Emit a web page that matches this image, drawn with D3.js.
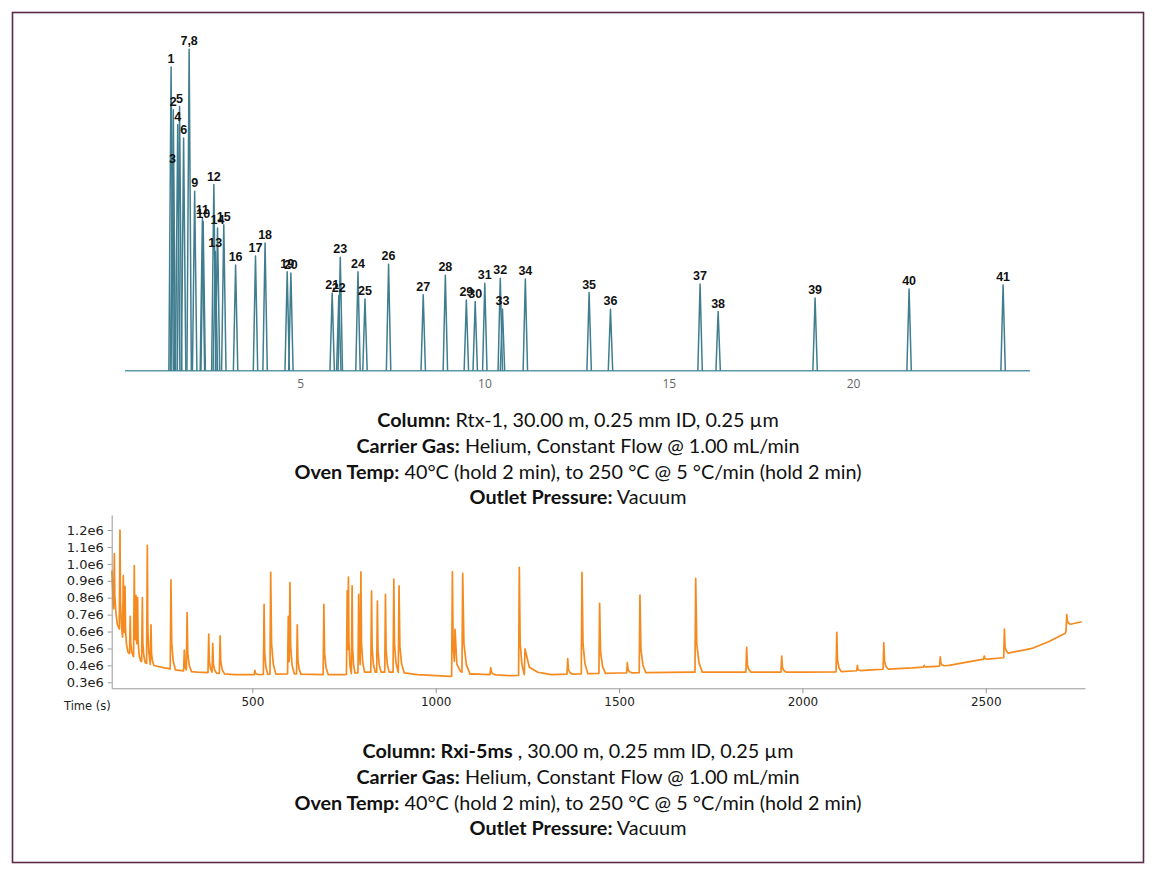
<!DOCTYPE html>
<html>
<head>
<meta charset="utf-8">
<script src="https://cdn.jsdelivr.net/npm/d3@7"></script>
<style>
  body { margin: 0; background: #fff; }
  svg { display: block; }
</style>
</head>
<body>
<svg width="1160" height="874"></svg>
<script>
// Rtx-1 run: peak label, retention time (min), relative height
var peakLabels = ['1','2','3','4','5','6','7,8','9','10','11','12','13','14','15','16','17','18','19','20',
    '21','22','23','24','25','26','27','28','29','30','31','32','33','34','35','36','37','38','39','40','41'];
var peakTimes = [1.50, 1.56, 1.54, 1.68, 1.73, 1.84, 1.99, 2.14, 2.37, 2.35, 2.66, 2.70, 2.76, 2.93, 3.25,
    3.79, 4.05, 4.65, 4.75, 5.87, 6.05, 6.09, 6.57, 6.76, 7.40, 8.34, 8.94, 9.51, 9.75, 10.01, 10.43,
    10.49, 11.11, 12.84, 13.42, 15.85, 16.34, 18.97, 21.52, 24.07];
var peakHeights = [94.5, 81.2, 63.5, 76.5, 82.2, 72.4, 100, 55.8, 46.4, 47.5, 57.9, 37.1, 44.4, 45.4, 32.9,
    35.7, 39.7, 30.8, 30.4, 24.2, 23.3, 35.3, 30.8, 22.3, 33.1, 23.6, 29.7, 22.0, 21.5, 27.2, 28.8,
    19.1, 28.5, 24.3, 19.1, 27.0, 18.4, 22.6, 25.4, 26.7];
var topTicks = [5, 10, 15, 20];

// Rxi-5ms run: baseline knots (s, counts) and peaks (s, apex counts, tail s)
var baseTimes = [117, 121, 126, 132, 140, 150, 160, 170, 185, 200, 230, 260, 300, 350, 400, 450, 500, 600,
    700, 750, 800, 900, 950, 1040, 1100, 1200, 1300, 1400, 1500, 1700, 2000, 2100, 2200, 2300, 2400,
    2490, 2549, 2556, 2626, 2671, 2717, 2724, 2762];
var baseValues = [0.96e6, 0.74e6, 0.70e6, 0.64e6, 0.60e6, 0.52e6, 0.48e6, 0.46e6, 0.44e6, 0.42e6, 0.40e6,
    0.385e6, 0.37e6, 0.36e6, 0.355e6, 0.345e6, 0.345e6, 0.35e6, 0.345e6, 0.345e6, 0.36e6, 0.36e6, 0.345e6,
    0.335e6, 0.35e6, 0.34e6, 0.345e6, 0.35e6, 0.355e6, 0.36e6, 0.36e6, 0.362e6, 0.375e6, 0.385e6, 0.40e6,
    0.435e6, 0.445e6, 0.47e6, 0.50e6, 0.54e6, 0.59e6, 0.64e6, 0.658e6];
var ms5Times = [123.6, 139, 148, 152.7, 167, 178, 182.7, 187, 200, 213.6, 223.6, 278, 314.5, 322, 381, 392,
    412, 507, 532, 550, 598, 602.5, 622.5, 695, 758.6, 762, 772, 790, 796, 825, 841, 863, 885.7, 900,
    1045.5, 1052.7, 1073.6, 1150, 1228, 1243.6, 1360, 1399, 1447, 1522.7, 1557, 1709, 1848, 1943.6,
    2093.8, 2150, 2222, 2332, 2376, 2496, 2551, 2721];
var ms5Apex = [1.06e6, 1.20e6, 0.93e6, 0.835e6, 0.69e6, 0.99e6, 0.77e6, 0.77e6, 0.80e6, 1.11e6, 0.64e6,
    0.905e6, 0.49e6, 0.71e6, 0.585e6, 0.53e6, 0.575e6, 0.37e6, 0.76e6, 0.95e6, 0.69e6, 0.86e6, 0.64e6,
    0.76e6, 0.84e6, 0.85e6, 0.87e6, 0.82e6, 0.93e6, 0.84e6, 0.78e6, 0.82e6, 0.91e6, 0.87e6,
    0.954e6, 0.564e6, 0.93e6, 0.387e6, 0.98e6, 0.497e6, 0.44e6, 0.95e6, 0.767e6, 0.416e6, 0.816e6,
    0.914e6, 0.507e6, 0.455e6, 0.595e6, 0.40e6, 0.534e6, 0.40e6, 0.45e6, 0.455e6, 0.615e6, 0.70e6];
var ms5Tails = [8, 8, 8, 8, 8, 8, 8, 8, 8, 8, 8, 12, 8, 12, 10, 10, 12, 10, 10, 14, 8, 12, 10, 12, 8, 8,
    8, 8, 10, 10, 10, 10, 12, 14, 12, 30, 20, 14, 14, 70, 12, 16, 16, 12, 16, 18, 12, 12, 12, 8, 12, 8, 10,
    8, 10, 10];
var ms5Ticks = [0.3e6, 0.4e6, 0.5e6, 0.6e6, 0.7e6, 0.8e6, 0.9e6, 1.0e6, 1.1e6, 1.2e6];
var timeTicks = [500, 1000, 1500, 2000, 2500];

var topCaption = [
    ['Column:', ' Rtx-1, 30.00 m, 0.25 mm ID, 0.25 µm'],
    ['Carrier Gas:', ' Helium, Constant Flow @ 1.00 mL/min'],
    ['Oven Temp:', ' 40°C (hold 2 min), to 250 °C @ 5 °C/min (hold 2 min)'],
    ['Outlet Pressure:', ' Vacuum']
];
var bottomCaption = [
    ['Column: Rxi-5ms', ' , 30.00 m, 0.25 mm ID, 0.25 µm'],
    ['Carrier Gas:', ' Helium, Constant Flow @ 1.00 mL/min'],
    ['Oven Temp:', ' 40°C (hold 2 min), to 250 °C @ 5 °C/min (hold 2 min)'],
    ['Outlet Pressure:', ' Vacuum']
];

var svg = d3.select('svg');

svg.append('rect')
    .attr('x', 12.5).attr('y', 12.5)
    .attr('width', 1131).attr('height', 850)
    .attr('fill', 'none')
    .attr('stroke', '#5a2a47')
    .attr('stroke-width', 1.6);

// ---- top chromatogram ----
var xTop = d3.scaleLinear().domain([0.25, 24.8]).range([125, 1030]);
var yTop = d3.scaleLinear().domain([0, 100]).range([370.7, 49.3]);
var peakColor = '#3f7d8f';
var topLine = d3.line().x(d => xTop(d[0])).y(d => yTop(d[1]));
var halfWidth = 0.06;

svg.append('path')
    .attr('d', topLine([[0.25, 0], [24.8, 0]]))
    .attr('fill', 'none')
    .attr('stroke', '#5b98a8')
    .attr('stroke-width', 1.6);

var peaks = peakTimes.map((t, i) => ({ t: t, h: peakHeights[i], label: peakLabels[i] }));

svg.append('g')
    .selectAll('path')
    .data(peaks)
    .join('path')
    .attr('d', d => topLine([[d.t - halfWidth, 0], [d.t, d.h], [d.t + halfWidth, 0]]))
    .attr('fill', 'none')
    .attr('stroke', peakColor)
    .attr('stroke-width', 1.5)
    .attr('stroke-linejoin', 'round');

svg.append('g')
    .selectAll('text')
    .data(peaks)
    .join('text')
    .attr('x', d => xTop(d.t))
    .attr('y', d => yTop(d.h) - 4)
    .attr('text-anchor', 'middle')
    .attr('font-family', 'Liberation Sans, Arial, sans-serif')
    .attr('font-weight', 'bold')
    .attr('font-size', 12.5)
    .attr('fill', '#111')
    .text(d => d.label);

var topAxis = svg.append('g')
    .attr('transform', 'translate(0,370.7)')
    .call(d3.axisBottom(xTop).tickValues(topTicks).tickSize(0).tickPadding(9));
topAxis.select('.domain').remove();
topAxis.selectAll('text')
    .attr('font-family', 'Open Sans, sans-serif')
    .attr('font-size', 12)
    .attr('fill', '#666');

// ---- captions ----
function caption(lines, ys) {
    var g = svg.append('g')
        .attr('font-family', 'Lato, sans-serif')
        .attr('font-size', 19.8)
        .attr('fill', '#111');
    lines.forEach((l, i) => {
        var t = g.append('text')
            .attr('x', 578)
            .attr('y', ys[i])
            .attr('text-anchor', 'middle')
            .attr('dominant-baseline', 'central');
        t.append('tspan').attr('font-weight', 'bold').text(l[0]);
        t.append('tspan').text(l[1]);
    });
}
caption(topCaption, [419, 445, 471, 496]);
caption(bottomCaption, [750, 776, 802, 827]);

// ---- bottom chromatogram ----
var x = d3.scaleLinear().domain([116.4, 2770.7]).range([111.7, 1085]);
var y = d3.scaleLinear().domain([0.2645e6, 1.2888e6]).range([688.3, 515]);
var baseAt = d3.scaleLinear().domain(baseTimes).range(baseValues).clamp(true);

var kernelDt = [-2, 0, 2, 6, 12];
var kernelFrac = [0, 1, 0.3, 0.1, 0];

var ms5Peaks = ms5Times.map((t, i) => {
    var k = ms5Tails[i] / 12;
    var dts = kernelDt.map(dt => dt > 0 ? dt * k : dt);
    return {
        t: t,
        h: ms5Apex[i] - baseAt(t),
        shape: d3.scaleLinear().domain(dts.map(dt => t + dt)).range(kernelFrac).clamp(true),
        times: dts.map(dt => t + dt)
    };
});

var traceTimes = Array.from(new Set(baseTimes.concat(...ms5Peaks.map(p => p.times))))
    .filter(t => t >= baseTimes[0] && t <= baseTimes[baseTimes.length - 1])
    .sort((a, b) => a - b);
var trace = traceTimes.map(t => [t, baseAt(t) + d3.sum(ms5Peaks, p => p.h * p.shape(t))]);

svg.append('path')
    .attr('d', d3.line().x(d => x(d[0])).y(d => y(d[1]))(trace))
    .attr('fill', 'none')
    .attr('stroke', '#f58a1f')
    .attr('stroke-width', 1.7)
    .attr('stroke-linejoin', 'round');

var yAxis = svg.append('g')
    .attr('transform', 'translate(111.7,0)')
    .call(d3.axisLeft(y).tickValues(ms5Ticks).tickFormat(d => (d / 1e6).toFixed(1) + 'e6')
        .tickSize(4).tickSizeOuter(0).tickPadding(4));
var xAxis = svg.append('g')
    .attr('transform', 'translate(0,688.3)')
    .call(d3.axisBottom(x).tickValues(timeTicks).tickFormat(d3.format('d'))
        .tickSize(5).tickSizeOuter(0).tickPadding(4));

[yAxis, xAxis].forEach(g => {
    g.select('.domain').attr('stroke', '#999');
    g.selectAll('.tick line').attr('stroke', '#999');
    g.selectAll('text')
        .attr('font-family', 'DejaVu Sans, Verdana, sans-serif')
        .attr('fill', '#222');
});
yAxis.selectAll('text').attr('font-size', 13);
xAxis.selectAll('text').attr('font-size', 12);

svg.append('text')
    .attr('x', 64)
    .attr('y', 706)
    .attr('dominant-baseline', 'central')
    .attr('font-family', 'DejaVu Sans, Verdana, sans-serif')
    .attr('font-size', 11.5)
    .attr('fill', '#222')
    .text('Time (s)');
</script>
</body>
</html>
